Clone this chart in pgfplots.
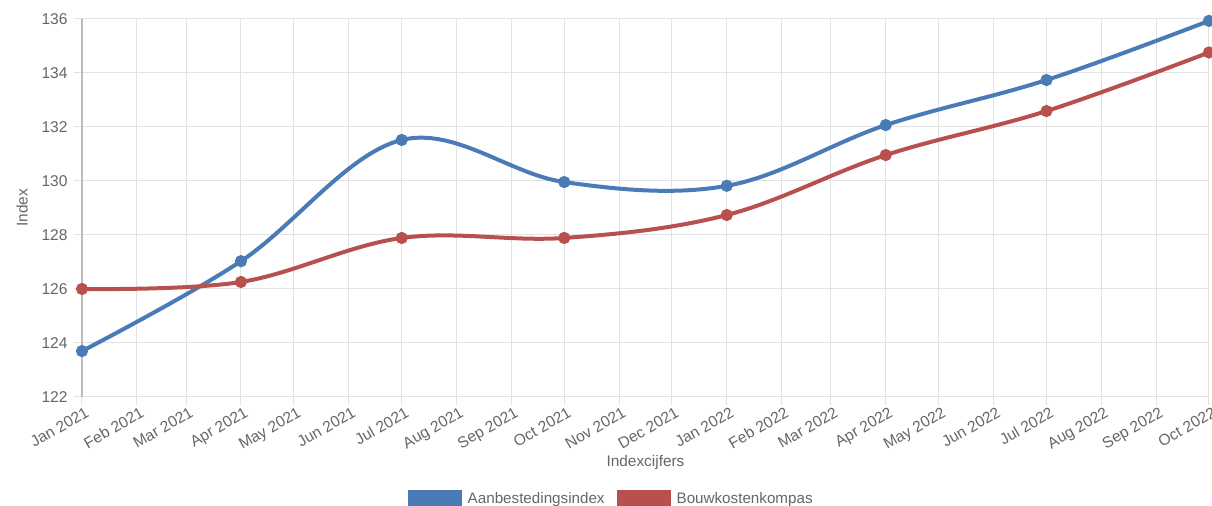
\documentclass[border=0pt]{standalone}
\usepackage{pgfplots}
\pgfplotsset{compat=1.18}
\usepackage{fontspec}
\setmainfont{Liberation Sans}

\definecolor{aanblue}{HTML}{4A7BB7}
\definecolor{bouwred}{HTML}{B8514E}
\definecolor{txtgray}{HTML}{666666}
\definecolor{gridgray}{HTML}{E2E2E2}
\definecolor{axisgray}{HTML}{BBBBBB}

% x values are days counted from 1 Jan 2021
\pgfplotstableread{
day  val
0    123.70
90   127.03
181  131.52
273  129.96
365  129.82
455  132.07
546  133.74
638  135.93
}\aanbesteding

\pgfplotstableread{
day  val
0    126.00
90   126.26
181  127.89
273  127.89
365  128.74
455  130.96
546  132.59
638  134.76
}\bouwkosten

\begin{document}
\begin{tikzpicture}
\begin{axis}[
  name=ax,
  scale only axis,
  width=563.5pt, height=189pt,
  xmin=0, xmax=638,
  ymin=122, ymax=136,
  ytick={122,124,...,136},
  xtick={0,31,59,90,120,151,181,212,243,273,304,334,365,396,424,455,485,516,546,577,608,638},
  xticklabels={Jan 2021,Feb 2021,Mar 2021,Apr 2021,May 2021,Jun 2021,Jul 2021,Aug 2021,Sep 2021,Oct 2021,Nov 2021,Dec 2021,Jan 2022,Feb 2022,Mar 2022,Apr 2022,May 2022,Jun 2022,Jul 2022,Aug 2022,Sep 2022,Oct 2022},
  /pgf/number format/assume math mode=true,
  grid=major,
  major grid style={gridgray, line width=0.5pt},
  tick align=outside,
  major tick length=4pt,
  tick style={gridgray, line width=0.5pt},
  axis line style={draw=none},
  axis x line*=bottom,
  axis y line*=left,
  tick label style={font=\fontsize{7.8}{9}\selectfont, text=txtgray},
  xticklabel style={rotate=30, anchor=north east, inner sep=1pt, xshift=2pt},
  yticklabel style={inner sep=1pt, xshift=-2pt},
  xlabel={Indexcijfers},
  ylabel={Index},
  label style={font=\fontsize{7.7}{9}\selectfont, text=txtgray},
  xlabel style={at={(axis description cs:0.5,-0.1746)}, anchor=center},
  ylabel style={at={(axis description cs:-0.0532,0.5)}, anchor=center, rotate=0},
  legend style={draw=none, fill=none, at={(axis description cs:0.47,-0.271)}, anchor=center,
    font=\fontsize{7.6}{9}\selectfont, text=txtgray, inner sep=0pt,
    /tikz/every odd column/.append style={column sep=1.5pt},
    /tikz/every even column/.append style={column sep=4.5pt},
    nodes={inner sep=1.5pt}},
  legend columns=2,
  legend cell align=left,
  legend image code/.code={\fill[#1, draw=none] (0pt,-4.5pt) rectangle (27pt,4.5pt);},
  clip=false,
]
\addplot[aanblue, line width=2pt, smooth, tension=0.6, mark=*, mark size=2pt,
  mark options={fill=aanblue, draw=aanblue}] table[x=day, y=val] {\aanbesteding};
\addlegendentry{Aanbestedingsindex}
\addplot[bouwred, line width=2pt, smooth, tension=0.6, mark=*, mark size=2pt,
  mark options={fill=bouwred, draw=bouwred}] table[x=day, y=val] {\bouwkosten};
\addlegendentry{Bouwkostenkompas}
% left axis line
\draw[axisgray, line width=0.7pt] (rel axis cs:0,0) -- (rel axis cs:0,1);
\end{axis}
\pgfresetboundingbox
\path[use as bounding box] (ax.south west) ++(-41pt,-54.5pt) rectangle ++(606pt,253pt);
\end{tikzpicture}
\end{document}
